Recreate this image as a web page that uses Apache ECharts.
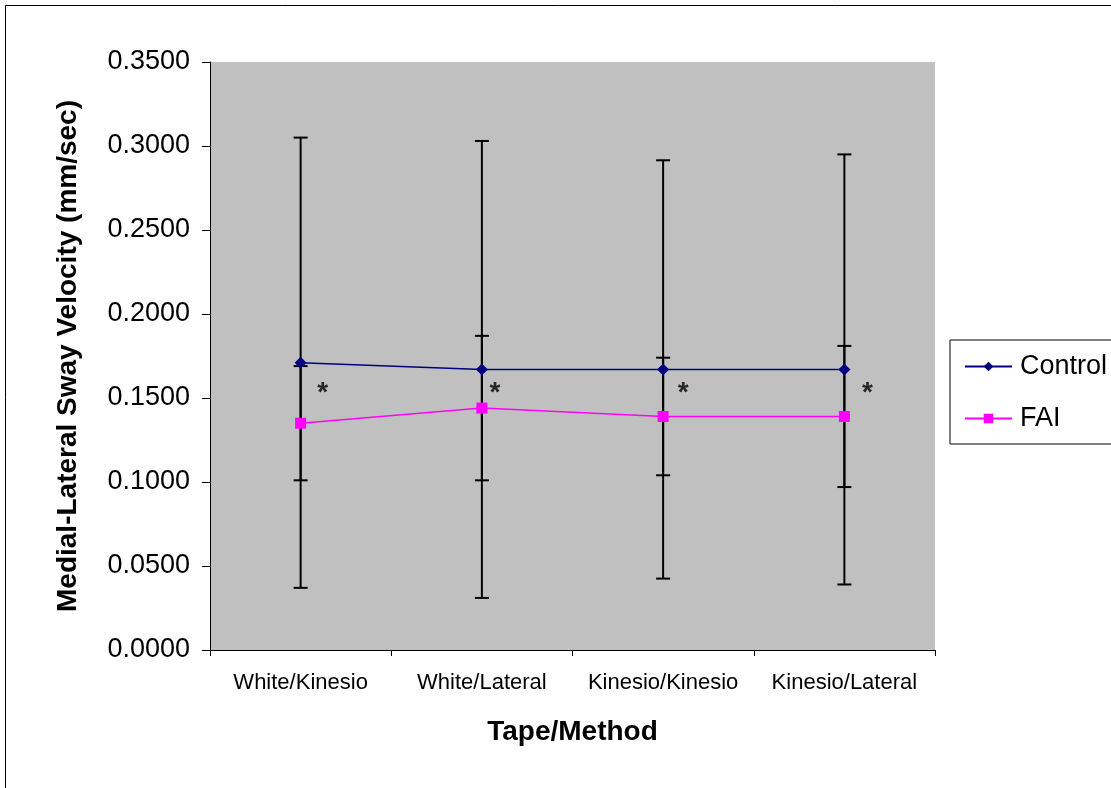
<!DOCTYPE html>
<html><head><meta charset="utf-8">
<script src="https://cdn.jsdelivr.net/npm/echarts@6/dist/echarts.min.js"></script>
<style>html,body{margin:0;padding:0;background:#fff}#c{width:1111px;height:788px}</style>
</head><body><div id="c"></div>
<script>
const categories = ['White/Kinesio', 'White/Lateral', 'Kinesio/Kinesio', 'Kinesio/Lateral'];
const controlMean = [0.171, 0.167, 0.167, 0.167];
const controlErr = [0.134, 0.136, 0.1245, 0.128];
const faiMean = [0.135, 0.144, 0.139, 0.139];
const faiErr = [0.034, 0.043, 0.035, 0.042];
const starValue = [0.153, 0.153, 0.153, 0.153];
const starOffsetX = [22, 13, 20, 23];

const font = 'Arial, "Liberation Sans", sans-serif';
const chart = echarts.init(document.getElementById('c'));

function errData(mean, err) {
  return mean.map((m, i) => [i, m - err[i], m + err[i]]);
}
function renderErr(params, api) {
  const x = api.value(0);
  const lo = api.coord([x, api.value(1)]);
  const hi = api.coord([x, api.value(2)]);
  const hw = 7;
  const st = { stroke: '#000', lineWidth: 2 };
  return { type: 'group', children: [
    { type: 'line', shape: { x1: lo[0], y1: lo[1], x2: hi[0], y2: hi[1] }, style: st },
    { type: 'line', shape: { x1: hi[0] - hw, y1: hi[1], x2: hi[0] + hw, y2: hi[1] }, style: st },
    { type: 'line', shape: { x1: lo[0] - hw, y1: lo[1], x2: lo[0] + hw, y2: lo[1] }, style: st }
  ]};
}

chart.setOption({
  animation: false,
  backgroundColor: '#fff',
  graphic: [{ type: 'rect', shape: { x: 5.5, y: 5.5, width: 1120, height: 800 },
    style: { fill: 'none', stroke: '#000', lineWidth: 1 }, z: -1 }],
  grid: { left: 210, right: 176, top: 62, bottom: 138, show: true, backgroundColor: '#C0C0C0', borderWidth: 0 },
  legend: {
    orient: 'vertical', left: 950, top: 340, padding: [13, 30, 12, 14],
    itemWidth: 47, itemHeight: 12, itemGap: 25,
    borderColor: '#000', borderWidth: 1, backgroundColor: '#fff',
    textStyle: { fontFamily: font, fontSize: 27, color: '#000', padding: [0, 0, 0, 3] },
    data: ['Control', 'FAI']
  },
  xAxis: {
    type: 'category', data: categories, boundaryGap: true,
    axisLine: { lineStyle: { color: '#000', width: 1 } },
    axisTick: { show: true, length: 6, interval: 0, lineStyle: { color: '#000' } },
    axisLabel: { color: '#000', fontFamily: font, fontSize: 22, margin: 22, interval: 0, hideOverlap: false },
    name: 'Tape/Method', nameLocation: 'middle', nameGap: 68,
    nameTextStyle: { fontFamily: font, fontSize: 28, fontWeight: 'bold', color: '#000' },
    splitLine: { show: false }
  },
  yAxis: {
    type: 'value', min: 0, max: 0.35, interval: 0.05,
    axisLine: { show: true, lineStyle: { color: '#000', width: 1 } },
    axisTick: { show: true, length: 8, lineStyle: { color: '#000' } },
    axisLabel: { color: '#000', fontFamily: font, fontSize: 27, margin: 20, formatter: v => v.toFixed(4) },
    splitLine: { show: false },
    name: 'Medial-Lateral Sway Velocity (mm/sec)', nameLocation: 'middle', nameGap: 128,
    nameTextStyle: { fontFamily: font, fontSize: 28, fontWeight: 'bold', color: '#000' }
  },
  series: [
    { type: 'custom', name: 'errC', renderItem: renderErr, data: errData(controlMean, controlErr), z: 1, silent: true },
    { type: 'custom', name: 'errF', renderItem: renderErr, data: errData(faiMean, faiErr), z: 1, silent: true },
    { type: 'line', name: 'Control', data: controlMean, color: '#000080', symbol: 'diamond', symbolSize: 12,
      lineStyle: { width: 1.5, color: '#000080' }, itemStyle: { color: '#000080' }, z: 3 },
    { type: 'line', name: 'FAI', data: faiMean, color: '#FF00FF', symbol: 'rect', symbolSize: 11,
      lineStyle: { width: 1.5, color: '#FF00FF' }, itemStyle: { color: '#FF00FF' }, z: 3 },
    { type: 'scatter', name: 'stars', symbolSize: 1, itemStyle: { color: 'rgba(0,0,0,0)' }, silent: true,
      data: starValue.map((v, i) => ({ value: [i, v], label: { offset: [starOffsetX[i], 0] } })),
      label: { show: true, position: 'inside', formatter: '*', fontFamily: font, fontSize: 28, fontWeight: 'bold', color: '#000' }, z: 4 }
  ]
});
</script></body></html>
